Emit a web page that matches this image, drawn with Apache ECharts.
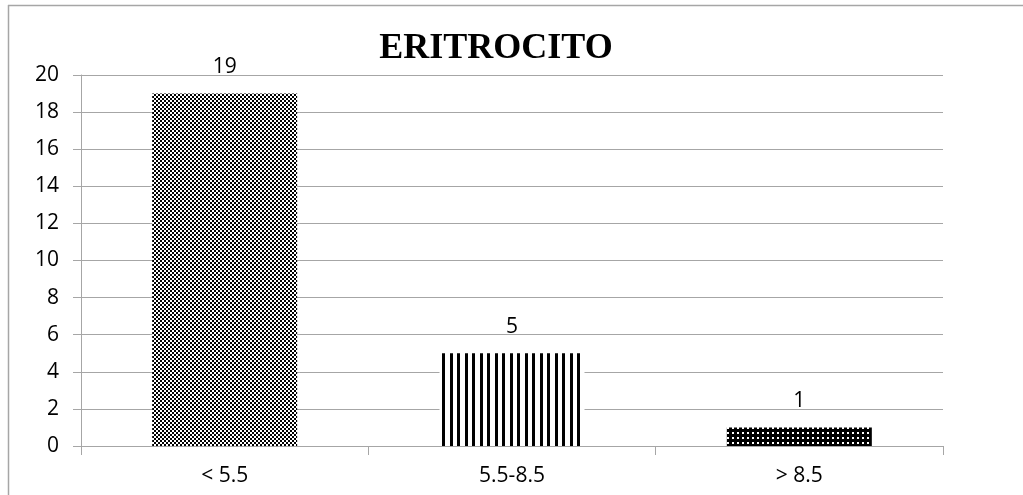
<!DOCTYPE html>
<html>
<head>
<meta charset="utf-8">
<script src="https://cdn.jsdelivr.net/npm/echarts@6/dist/echarts.min.js"></script>
<style>
html,body{margin:0;padding:0;background:#fff;overflow:hidden;}
#chart{width:1023px;height:495px;}
</style>
</head>
<body>
<div id="chart"></div>
<script>
const categories = ['< 5.5', '5.5-8.5', '> 8.5'];
const counts = [19, 5, 1];
const yTicks = [0, 2, 4, 6, 8, 10, 12, 14, 16, 18, 20];

// Hatch fills drawn on small tiles
function tile(w, h, draw) {
  const c = document.createElement('canvas');
  c.width = w; c.height = h;
  const ctx = c.getContext('2d');
  ctx.fillStyle = '#fff';
  ctx.fillRect(0, 0, w, h);
  ctx.fillStyle = '#000';
  draw(ctx);
  return c;
}
const checker = tile(4, 4, ctx => {
  ctx.fillRect(0, 0, 2, 2);
  ctx.fillRect(2, 2, 2, 2);
});
const stripes = tile(15, 4, ctx => {
  ctx.fillRect(0, 0, 3, 4);
  ctx.fillRect(7, 0, 3, 4);
});
const dense = tile(5, 5, ctx => {
  ctx.fillRect(0, 0, 5, 5);
  ctx.fillStyle = '#fff';
  ctx.fillRect(2, 2, 2, 2);
});
const fills = [checker, stripes, dense];

const labelFont = { fontSize: 21, color: '#000', fontFamily: 'Open Sans' };
const frameStyle = { stroke: '#a6a6a6', lineWidth: 1.5 };

const chart = echarts.init(document.getElementById('chart'));
chart.setOption({
  animation: false,
  title: {
    text: 'ERITROCITO',
    left: 491, textAlign: 'center', top: 26,
    textStyle: { fontFamily: 'Liberation Serif', fontWeight: 'bold', fontSize: 36, color: '#000' }
  },
  graphic: [
    { type: 'line', shape: { x1: 8, y1: 5.5, x2: 1023, y2: 5.5 }, style: frameStyle, silent: true },
    { type: 'line', shape: { x1: 8.5, y1: 5, x2: 8.5, y2: 495 }, style: frameStyle, silent: true }
  ],
  grid: { left: 81, right: 80, top: 75, bottom: 49 },
  xAxis: {
    type: 'category',
    data: categories,
    axisLine: { lineStyle: { color: '#a6a6a6' } },
    axisTick: { show: true, length: 9, lineStyle: { color: '#a6a6a6' } },
    axisLabel: Object.assign({ margin: 20 }, labelFont)
  },
  yAxis: {
    type: 'value',
    min: yTicks[0], max: yTicks[yTicks.length - 1], interval: 2,
    axisLine: { show: true, lineStyle: { color: '#a6a6a6' } },
    axisTick: { show: true, length: 8, lineStyle: { color: '#a6a6a6' } },
    splitLine: { lineStyle: { color: '#a6a6a6' } },
    axisLabel: Object.assign({ margin: 22 }, labelFont)
  },
  series: [{
    type: 'bar',
    barWidth: 145,
    data: counts.map((v, i) => ({
      value: v,
      itemStyle: { color: { image: fills[i], repeat: 'repeat' } }
    })),
    label: Object.assign({ show: true, position: 'top', distance: 16 }, labelFont)
  }]
});
</script>
</body>
</html>
